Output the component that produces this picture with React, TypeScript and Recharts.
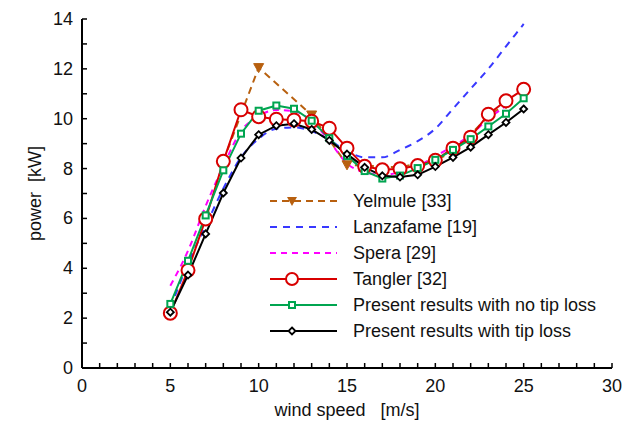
import { LineChart, Line, XAxis, YAxis } from "recharts";

// wind speeds (m/s) for the measured / computed series
const windSpeed = [5, 6, 7, 8, 9, 10, 11, 12, 13, 14, 15, 16, 17, 18, 19, 20, 21, 22, 23, 24, 25];

const lanzafame = [2.4, 4.2, 5.7, 7.2, 8.45, 9.2, 9.6, 9.65, 9.5, 9.15, 8.7, 8.45, 8.45, 8.75, 9.1, 9.6, 10.4, 11.2, 12.0, 12.9, 13.8];
const tangler = [2.2, 3.92, 5.98, 8.29, 10.36, 10.08, 9.98, 9.95, 9.9, 9.62, 8.82, 8.09, 7.95, 7.99, 8.12, 8.33, 8.82, 9.26, 10.18, 10.72, 11.18];
const noTipLoss = [2.57, 4.3, 6.12, 7.93, 9.4, 10.32, 10.53, 10.4, 9.92, 9.22, 8.5, 7.9, 7.6, 7.72, 8.02, 8.35, 8.75, 9.18, 9.69, 10.2, 10.82];
const tipLoss = [2.24, 3.73, 5.38, 7.02, 8.42, 9.36, 9.72, 9.8, 9.57, 9.13, 8.58, 8.05, 7.71, 7.66, 7.75, 8.08, 8.45, 8.86, 9.36, 9.85, 10.39];

const speraSpeed = [5, 6, 7, 8, 9, 10, 11, 12, 13, 14, 15, 16, 17, 18, 19, 20, 21, 22, 23, 24];
const spera = [3.3, 4.7, 6.5, 8.1, 9.5, 10.1, 10.35, 10.3, 9.9, 9.1, 8.2, 7.85, 7.75, 7.85, 8.1, 8.5, 8.9, 9.35, 10.0, 10.5];

const yelmuleSpeed = [8, 10, 13, 15, 18, 20, 21, 23, 24];
const yelmule = [8.3, 12.05, 10.15, 8.15, 8.05, 8.35, 8.65, 10.1, 10.6];

const xTicks = [0, 1, 2, 3, 4, 5, 6, 7, 8, 9, 10, 11, 12, 13, 14, 15, 16, 17, 18, 19, 20, 21, 22, 23, 24, 25, 26, 27, 28, 29, 30];
const yTicks = [0, 1, 2, 3, 4, 5, 6, 7, 8, 9, 10, 11, 12, 13, 14];

const pts = (xs: number[], ys: number[]) => xs.map((x, i) => ({ x, y: ys[i] }));

const FONT = "'Liberation Sans', Arial, sans-serif";
const TXT = "#111";
const NB = "\u00a0";

const C = {
  yel: "#b8600f",
  lan: "#3838ff",
  spe: "#ff00ff",
  tan: "#d80000",
  ntl: "#00a550",
  tl: "#000000",
};

/* eslint-disable @typescript-eslint/no-explicit-any */
function XTick({ x, y, payload }: any) {
  const v = payload.value;
  return (
    <g>
      <line x1={x} x2={x} y1={y} y2={y - 5} stroke="#000" strokeWidth={1.5} />
      {v % 5 === 0 && (
        <text x={x} y={y + 18} textAnchor="middle" dominantBaseline="central" fontSize={18} fontFamily={FONT} fill={TXT}>{v}</text>
      )}
    </g>
  );
}

function YTick({ x, y, payload }: any) {
  const v = payload.value;
  return (
    <g>
      <line x1={x} x2={x + 5} y1={y} y2={y} stroke="#000" strokeWidth={1.5} />
      {v % 2 === 0 && (
        <text x={x - 9} y={y} textAnchor="end" dominantBaseline="central" fontSize={18} fontFamily={FONT} fill={TXT}>{v}</text>
      )}
    </g>
  );
}

const square = (color: string) => (p: any) => (
  <rect key={p.index} x={p.cx - 3} y={p.cy - 3} width={6} height={6} fill="#fff" stroke={color} strokeWidth={2} />
);
const diamond = (color: string) => (p: any) => (
  <path key={p.index} d={`M${p.cx},${p.cy - 3.5}L${p.cx + 3.5},${p.cy}L${p.cx},${p.cy + 3.5}L${p.cx - 3.5},${p.cy}Z`} fill="#fff" stroke={color} strokeWidth={1.8} />
);
const triangle = (color: string) => (p: any) => (
  <path key={p.index} d={`M${p.cx - 5},${p.cy - 4}L${p.cx + 5},${p.cy - 4}L${p.cx},${p.cy + 5}Z`} fill={color} stroke={color} strokeWidth={1} />
);
/* eslint-enable @typescript-eslint/no-explicit-any */

const legendRows = [
  { name: "Yelmule [33]", color: C.yel, dash: "7 5", mark: "tri" },
  { name: "Lanzafame [19]", color: C.lan, dash: "7 6", mark: "" },
  { name: "Spera [29]", color: C.spe, dash: "6 5", mark: "" },
  { name: "Tangler [32]", color: C.tan, dash: "", mark: "circle" },
  { name: "Present results with no tip loss", color: C.ntl, dash: "", mark: "square" },
  { name: "Present results with tip loss", color: C.tl, dash: "", mark: "diamond" },
];

function LegendBox() {
  return (
    <svg width={340} height={160} style={{ display: "block" }}>
      {legendRows.map((r, i) => {
        const cy = 13 + i * 26;
        const mx = 22;
        return (
          <g key={r.name}>
            <line x1={0} x2={67} y1={cy} y2={cy} stroke={r.color} strokeWidth={2} strokeDasharray={r.dash || undefined} />
            {r.mark === "circle" && <circle cx={mx} cy={cy} r={6} fill="#fff" stroke={r.color} strokeWidth={2} />}
            {r.mark === "square" && <rect x={mx - 3} y={cy - 3} width={6} height={6} fill="#fff" stroke={r.color} strokeWidth={2} />}
            {r.mark === "diamond" && <path d={`M${mx},${cy - 3.5}L${mx + 3.5},${cy}L${mx},${cy + 3.5}L${mx - 3.5},${cy}Z`} fill="#fff" stroke={r.color} strokeWidth={1.8} />}
            {r.mark === "tri" && <path d={`M${mx - 5},${cy - 4}L${mx + 5},${cy - 4}L${mx},${cy + 5}Z`} fill={r.color} />}
            <text x={83} y={cy} dominantBaseline="central" fontSize={18} fontFamily={FONT} fill={TXT}>{r.name}</text>
          </g>
        );
      })}
    </svg>
  );
}

export default function App() {
  return (
    <div style={{ position: "absolute", left: 0, top: 0, width: 641, height: 421, background: "#fff" }}>
      <LineChart width={641} height={421} margin={{ top: 19, right: 29, left: 0, bottom: 0 }}>
        <XAxis
          type="number"
          dataKey="x"
          domain={[0, 30]}
          ticks={xTicks}
          interval={0}
          height={53}
          tickSize={0}
          tickMargin={0}
          tickLine={false}
          axisLine={{ stroke: "#000", strokeWidth: 2 }}
          tick={<XTick />}
          allowDataOverflow
          label={{ value: `wind speed${NB}${NB}${NB}[m/s]`, position: "insideBottom", offset: 5, fontSize: 18, fontFamily: FONT, fill: TXT }}
        />
        <YAxis
          type="number"
          domain={[0, 14]}
          ticks={yTicks}
          interval={0}
          width={82}
          tickSize={0}
          tickMargin={0}
          tickLine={false}
          axisLine={{ stroke: "#000", strokeWidth: 2 }}
          tick={<YTick />}
          label={{ value: `power${NB}${NB}[kW]`, angle: -90, position: "insideLeft", offset: 35, fontSize: 18, fontFamily: FONT, fill: TXT, style: { textAnchor: "middle" } }}
        />
        <Line data={pts(yelmuleSpeed, yelmule)} dataKey="y" type="linear" stroke={C.yel} strokeWidth={2} strokeDasharray="7 5" dot={triangle(C.yel)} isAnimationActive={false} />
        <Line data={pts(windSpeed, lanzafame)} dataKey="y" type="monotone" stroke={C.lan} strokeWidth={2} strokeDasharray="7 6" dot={false} isAnimationActive={false} />
        <Line data={pts(speraSpeed, spera)} dataKey="y" type="monotone" stroke={C.spe} strokeWidth={2} strokeDasharray="6 5" dot={false} isAnimationActive={false} />
        <Line data={pts(windSpeed, tangler)} dataKey="y" type="linear" stroke={C.tan} strokeWidth={2} dot={{ r: 6.5, fill: "#fff", stroke: C.tan, strokeWidth: 2 }} isAnimationActive={false} />
        <Line data={pts(windSpeed, noTipLoss)} dataKey="y" type="linear" stroke={C.ntl} strokeWidth={2} dot={square(C.ntl)} isAnimationActive={false} />
        <Line data={pts(windSpeed, tipLoss)} dataKey="y" type="linear" stroke={C.tl} strokeWidth={2} dot={diamond(C.tl)} isAnimationActive={false} />
      </LineChart>
      <div style={{ position: "absolute", left: 270, top: 188 }}>
        <LegendBox />
      </div>
    </div>
  );
}
